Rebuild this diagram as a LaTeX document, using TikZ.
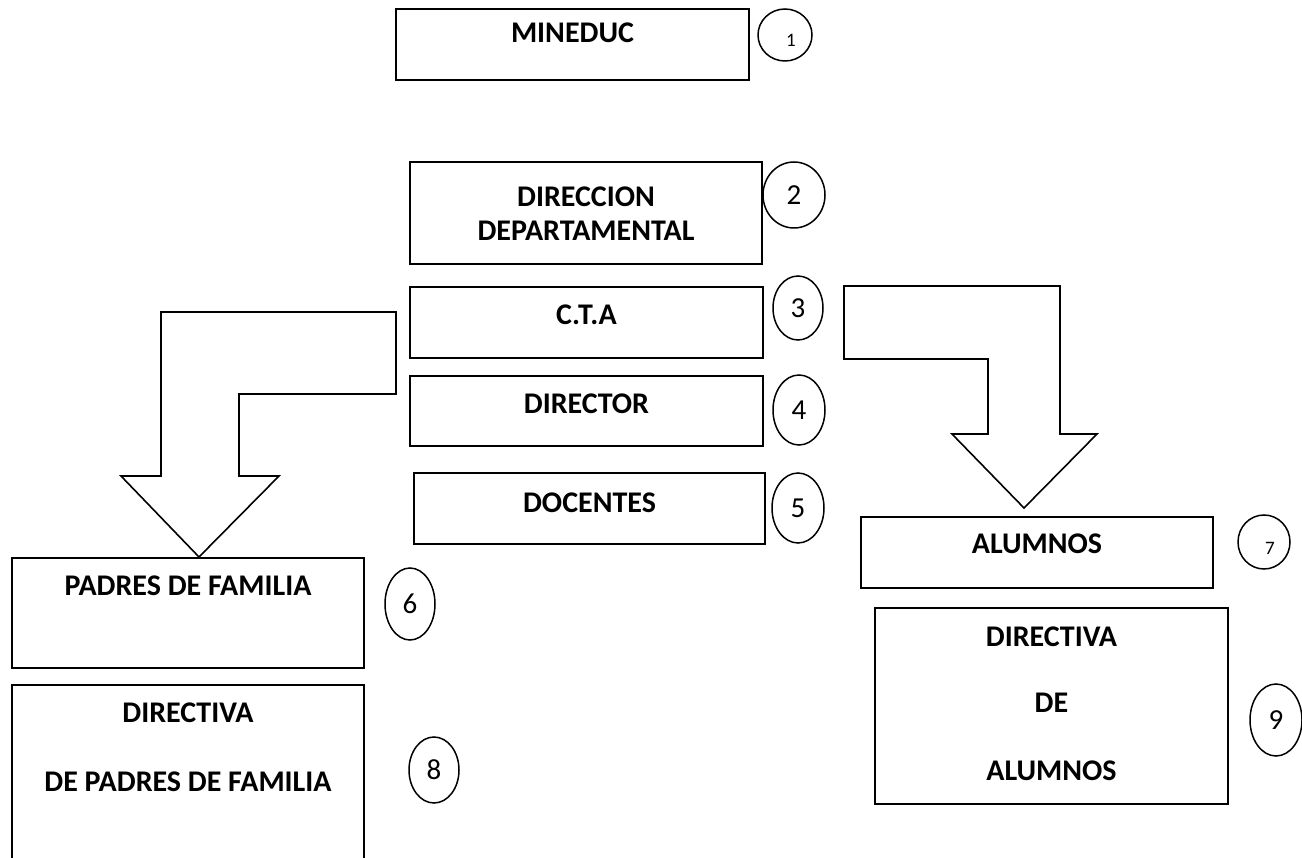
\documentclass[tikz,border=0pt]{standalone}
\usepackage{fontspec}
\setmainfont{Carlito}
\usetikzlibrary{shapes.geometric}

\begin{document}
\begin{tikzpicture}[x=1pt,y=-1pt,line width=2pt,
  box/.style={draw, rectangle, anchor=north west, inner sep=0pt},
  num/.style={draw, ellipse, inner sep=0pt, line width=1.5pt, font=\fontsize{29}{34}\selectfont},
  lbl/.style={anchor=base, inner sep=0pt, font=\bfseries\fontsize{30}{36}\selectfont}]
  \useasboundingbox (0,0) rectangle (1302,858);

  % boxes
  \node[box, minimum width=353pt, minimum height=71pt] (mineduc) at (395,8) {};
  \node[box, minimum width=352pt, minimum height=102pt] (direccion) at (409,161) {};
  \node[box, minimum width=353pt, minimum height=71pt] (cta) at (409,286) {};
  \node[box, minimum width=353pt, minimum height=70pt] (director) at (409,375) {};
  \node[box, minimum width=351pt, minimum height=71pt] (docentes) at (413,472) {};
  \node[box, minimum width=352pt, minimum height=110pt] (padres) at (11,557) {};
  \node[box, minimum width=352pt, minimum height=200pt] (dirpadres) at (11,684) {};
  \node[box, minimum width=352pt, minimum height=71pt] (alumnos) at (860,516) {};
  \node[box, minimum width=353pt, minimum height=196pt] (diralumnos) at (874,607) {};

  % texts
  \node[lbl] (tmineduc) at ([yshift=-35pt]mineduc.north) {MINEDUC};
  \node[lbl] (tdireccion) at ([yshift=-46pt]direccion.north) {DIRECCION};
  \node[lbl] (tdepartamental) at ([yshift=-80pt]direccion.north) {DEPARTAMENTAL};
  \node[lbl] (tcta) at ([yshift=-39pt]cta.north) {C.T.A};
  \node[lbl] (tdirector) at ([yshift=-39pt]director.north) {DIRECTOR};
  \node[lbl] (tdocentes) at ([yshift=-40pt]docentes.north) {DOCENTES};
  \node[lbl] (tpadres) at ([yshift=-38pt]padres.north) {PADRES DE FAMILIA};
  \node[lbl] (tdirpadres) at ([yshift=-38pt]dirpadres.north) {DIRECTIVA};
  \node[lbl] (tdepadres) at ([yshift=-107pt]dirpadres.north) {DE PADRES DE FAMILIA};
  \node[lbl] (talumnos) at ([yshift=-38pt]alumnos.north) {ALUMNOS};
  \node[lbl] (tdiralumnos) at ([yshift=-39pt]diralumnos.north) {DIRECTIVA};
  \node[lbl] (tdealumnos) at ([yshift=-105pt]diralumnos.north) {DE};
  \node[lbl] (talumnos2) at ([yshift=-173pt]diralumnos.north) {ALUMNOS};

  % numbers
  \node[num, minimum width=54pt, minimum height=52pt] (n1) at (785,35) {};
  \node[font=\fontsize{19}{23}\selectfont, inner sep=0pt] (d1) at (791,40) {1};
  \node[num, minimum width=62pt, minimum height=66pt] (n2) at (794,195) {2};
  \node[num, minimum width=50pt, minimum height=64pt] (n3) at (798,308) {3};
  \node[num, minimum width=52pt, minimum height=70pt] (n4) at (799,410) {4};
  \node[num, minimum width=52pt, minimum height=70pt] (n5) at (798,508) {5};
  \node[num, minimum width=50pt, minimum height=72pt] (n6) at (410,604) {6};
  \node[num, minimum width=52pt, minimum height=54pt] (n7) at (1264,542) {};
  \node[font=\fontsize{19}{23}\selectfont, inner sep=0pt] (d7) at (1270,548) {7};
  \node[num, minimum width=50pt, minimum height=66pt] (n8) at (434,770) {8};
  \node[num, minimum width=52pt, minimum height=72pt] (n9) at (1276,720) {9};

  % block arrows
  \draw[line width=1.6pt] (396,312) -- (161,312) -- (161,476) -- (121,476) -- (199,557)
    -- (279,476) -- (239,476) -- (239,394) -- (396,394) -- cycle;
  \draw[line width=1.6pt] (844,286) -- (1060,286) -- (1060,434) -- (1097,434) -- (1024,508)
    -- (952,434) -- (988,434) -- (988,359) -- (844,359) -- cycle;
\end{tikzpicture}
\end{document}
